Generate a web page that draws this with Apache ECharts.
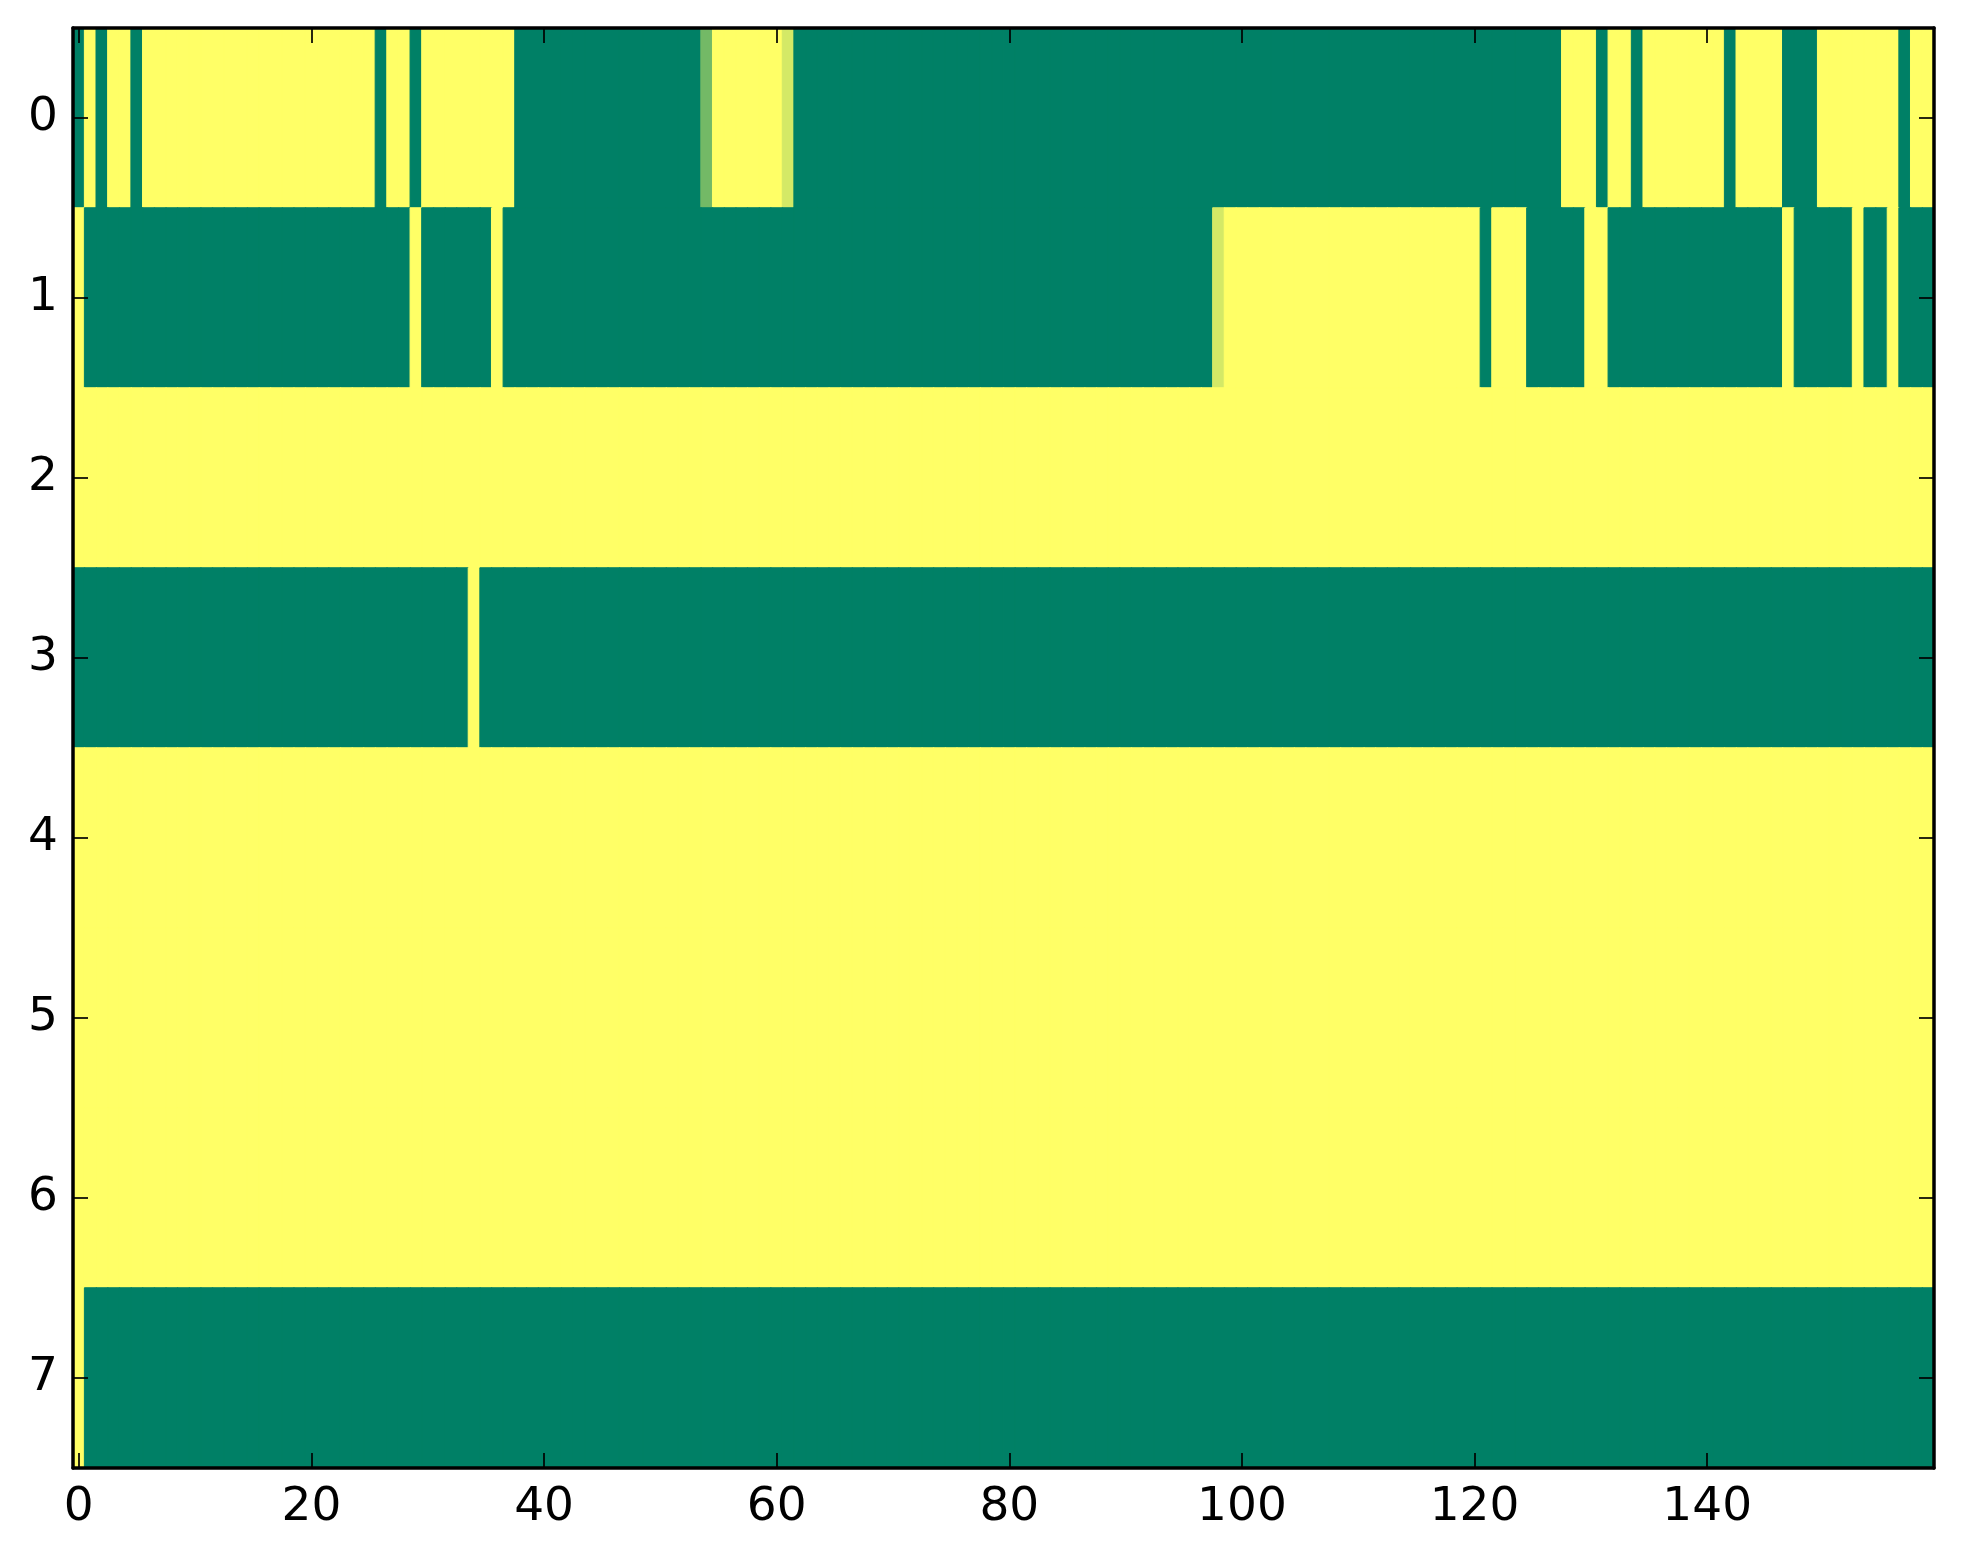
<!DOCTYPE html>
<html>
<head>
<meta charset="utf-8">
<script src="https://cdn.jsdelivr.net/npm/echarts@6/dist/echarts.min.js"></script>
<style>
html, body { margin: 0; padding: 0; background: #ffffff; }
#chart { width: 1963px; height: 1564px; }
</style>
</head>
<body>
<div id="chart"></div>
<script>
// Column indices (x) and row indices (y)
const columns = Array.from({ length: 160 }, (_, i) => String(i));
const rowLabels = ['0', '1', '2', '3', '4', '5', '6', '7'];

// Cell values per row (0 = green end, 1 = yellow end of the "summer" colormap)
const row0 = [
  0,1,0,1,1,0,1,1,1,1,1,1,1,1,1,1,1,1,1,1,
  1,1,1,1,1,1,0,1,1,0,1,1,1,1,1,1,1,1,0,0,
  0,0,0,0,0,0,0,0,0,0,0,0,0,0,0.45,1,1,1,1,1,
  1,0.83,0,0,0,0,0,0,0,0,0,0,0,0,0,0,0,0,0,0,
  0,0,0,0,0,0,0,0,0,0,0,0,0,0,0,0,0,0,0,0,
  0,0,0,0,0,0,0,0,0,0,0,0,0,0,0,0,0,0,0,0,
  0,0,0,0,0,0,0,0,1,1,1,0,1,1,0,1,1,1,1,1,
  1,1,0,1,1,1,1,0,0,0,1,1,1,1,1,1,1,0,1,1
];
const row1 = [
  1,0,0,0,0,0,0,0,0,0,0,0,0,0,0,0,0,0,0,0,
  0,0,0,0,0,0,0,0,0,1,0,0,0,0,0,0,1,0,0,0,
  0,0,0,0,0,0,0,0,0,0,0,0,0,0,0,0,0,0,0,0,
  0,0,0,0,0,0,0,0,0,0,0,0,0,0,0,0,0,0,0,0,
  0,0,0,0,0,0,0,0,0,0,0,0,0,0,0,0,0,0,0.83,1,
  1,1,1,1,1,1,1,1,1,1,1,1,1,1,1,1,1,1,1,1,
  1,0,1,1,1,0,0,0,0,0,1,1,0,0,0,0,0,0,0,0,
  0,0,0,0,0,0,0,1,0,0,0,0,0,1,0,0,1,0,0,0
];
const row2 = [
  1,1,1,1,1,1,1,1,1,1,1,1,1,1,1,1,1,1,1,1,
  1,1,1,1,1,1,1,1,1,1,1,1,1,1,1,1,1,1,1,1,
  1,1,1,1,1,1,1,1,1,1,1,1,1,1,1,1,1,1,1,1,
  1,1,1,1,1,1,1,1,1,1,1,1,1,1,1,1,1,1,1,1,
  1,1,1,1,1,1,1,1,1,1,1,1,1,1,1,1,1,1,1,1,
  1,1,1,1,1,1,1,1,1,1,1,1,1,1,1,1,1,1,1,1,
  1,1,1,1,1,1,1,1,1,1,1,1,1,1,1,1,1,1,1,1,
  1,1,1,1,1,1,1,1,1,1,1,1,1,1,1,1,1,1,1,1
];
const row3 = [
  0,0,0,0,0,0,0,0,0,0,0,0,0,0,0,0,0,0,0,0,
  0,0,0,0,0,0,0,0,0,0,0,0,0,0,1,0,0,0,0,0,
  0,0,0,0,0,0,0,0,0,0,0,0,0,0,0,0,0,0,0,0,
  0,0,0,0,0,0,0,0,0,0,0,0,0,0,0,0,0,0,0,0,
  0,0,0,0,0,0,0,0,0,0,0,0,0,0,0,0,0,0,0,0,
  0,0,0,0,0,0,0,0,0,0,0,0,0,0,0,0,0,0,0,0,
  0,0,0,0,0,0,0,0,0,0,0,0,0,0,0,0,0,0,0,0,
  0,0,0,0,0,0,0,0,0,0,0,0,0,0,0,0,0,0,0,0
];
const row4 = [
  1,1,1,1,1,1,1,1,1,1,1,1,1,1,1,1,1,1,1,1,
  1,1,1,1,1,1,1,1,1,1,1,1,1,1,1,1,1,1,1,1,
  1,1,1,1,1,1,1,1,1,1,1,1,1,1,1,1,1,1,1,1,
  1,1,1,1,1,1,1,1,1,1,1,1,1,1,1,1,1,1,1,1,
  1,1,1,1,1,1,1,1,1,1,1,1,1,1,1,1,1,1,1,1,
  1,1,1,1,1,1,1,1,1,1,1,1,1,1,1,1,1,1,1,1,
  1,1,1,1,1,1,1,1,1,1,1,1,1,1,1,1,1,1,1,1,
  1,1,1,1,1,1,1,1,1,1,1,1,1,1,1,1,1,1,1,1
];
const row5 = [
  1,1,1,1,1,1,1,1,1,1,1,1,1,1,1,1,1,1,1,1,
  1,1,1,1,1,1,1,1,1,1,1,1,1,1,1,1,1,1,1,1,
  1,1,1,1,1,1,1,1,1,1,1,1,1,1,1,1,1,1,1,1,
  1,1,1,1,1,1,1,1,1,1,1,1,1,1,1,1,1,1,1,1,
  1,1,1,1,1,1,1,1,1,1,1,1,1,1,1,1,1,1,1,1,
  1,1,1,1,1,1,1,1,1,1,1,1,1,1,1,1,1,1,1,1,
  1,1,1,1,1,1,1,1,1,1,1,1,1,1,1,1,1,1,1,1,
  1,1,1,1,1,1,1,1,1,1,1,1,1,1,1,1,1,1,1,1
];
const row6 = [
  1,1,1,1,1,1,1,1,1,1,1,1,1,1,1,1,1,1,1,1,
  1,1,1,1,1,1,1,1,1,1,1,1,1,1,1,1,1,1,1,1,
  1,1,1,1,1,1,1,1,1,1,1,1,1,1,1,1,1,1,1,1,
  1,1,1,1,1,1,1,1,1,1,1,1,1,1,1,1,1,1,1,1,
  1,1,1,1,1,1,1,1,1,1,1,1,1,1,1,1,1,1,1,1,
  1,1,1,1,1,1,1,1,1,1,1,1,1,1,1,1,1,1,1,1,
  1,1,1,1,1,1,1,1,1,1,1,1,1,1,1,1,1,1,1,1,
  1,1,1,1,1,1,1,1,1,1,1,1,1,1,1,1,1,1,1,1
];
const row7 = [
  1,0,0,0,0,0,0,0,0,0,0,0,0,0,0,0,0,0,0,0,
  0,0,0,0,0,0,0,0,0,0,0,0,0,0,0,0,0,0,0,0,
  0,0,0,0,0,0,0,0,0,0,0,0,0,0,0,0,0,0,0,0,
  0,0,0,0,0,0,0,0,0,0,0,0,0,0,0,0,0,0,0,0,
  0,0,0,0,0,0,0,0,0,0,0,0,0,0,0,0,0,0,0,0,
  0,0,0,0,0,0,0,0,0,0,0,0,0,0,0,0,0,0,0,0,
  0,0,0,0,0,0,0,0,0,0,0,0,0,0,0,0,0,0,0,0,
  0,0,0,0,0,0,0,0,0,0,0,0,0,0,0,0,0,0,0,0
];
const rows = [row0, row1, row2, row3, row4, row5, row6, row7];

// x tick labels shown every 20 columns
const xTickStep = 20;

// matplotlib "summer" colormap: r = v, g = 0.5 + 0.5 v, b = 0.4
function summer(v) {
  const r = Math.round(255 * v);
  const g = Math.round(255 * (0.5 + 0.5 * v));
  const b = Math.round(255 * 0.4);
  return 'rgb(' + r + ',' + g + ',' + b + ')';
}

const cells = [];
rows.forEach((r, yi) => r.forEach((v, xi) => {
  const c = summer(v);
  cells.push({ value: [xi, yi, v], itemStyle: { color: c, borderColor: c, borderWidth: 1 } });
}));

const FONT = 'DejaVu Sans';
const spine = { show: true, onZero: false, lineStyle: { color: '#000', width: 3.5 } };
const xTickFn = (i) => i % xTickStep === 0;
const tickStyle = { color: '#000', width: 1.7 };

const chart = echarts.init(document.getElementById('chart'), null, { renderer: 'canvas' });
chart.setOption({
  animation: false,
  backgroundColor: '#ffffff',
  grid: { left: 73, top: 28, width: 1861, height: 1440, containLabel: false },
  xAxis: [
    {
      type: 'category', data: columns, position: 'bottom', z: 10,
      axisLine: spine,
      axisTick: { show: true, inside: true, length: 15, alignWithLabel: true, interval: xTickFn, lineStyle: tickStyle },
      axisLabel: { show: true, interval: xTickFn, margin: 16, color: '#000', fontFamily: FONT, fontSize: 47 },
      splitLine: { show: false }
    },
    {
      type: 'category', data: columns, position: 'top', z: 10,
      axisLine: spine,
      axisTick: { show: true, inside: true, length: 15, alignWithLabel: true, interval: xTickFn, lineStyle: tickStyle },
      axisLabel: { show: false },
      splitLine: { show: false }
    }
  ],
  yAxis: [
    {
      type: 'category', data: rowLabels, inverse: true, position: 'left', z: 10,
      axisLine: spine,
      axisTick: { show: true, inside: true, length: 15, alignWithLabel: true, interval: 0, lineStyle: tickStyle },
      axisLabel: { show: true, interval: 0, margin: 15, color: '#000', fontFamily: FONT, fontSize: 47 },
      splitLine: { show: false }
    },
    {
      type: 'category', data: rowLabels, inverse: true, position: 'right', z: 10,
      axisLine: spine,
      axisTick: { show: true, inside: true, length: 15, alignWithLabel: true, interval: 0, lineStyle: tickStyle },
      axisLabel: { show: false },
      splitLine: { show: false }
    }
  ],
  series: [{
    type: 'heatmap',
    xAxisIndex: 0, yAxisIndex: 0,
    data: cells,
    emphasis: { disabled: true },
    progressive: 0
  }]
});
</script>
</body>
</html>
